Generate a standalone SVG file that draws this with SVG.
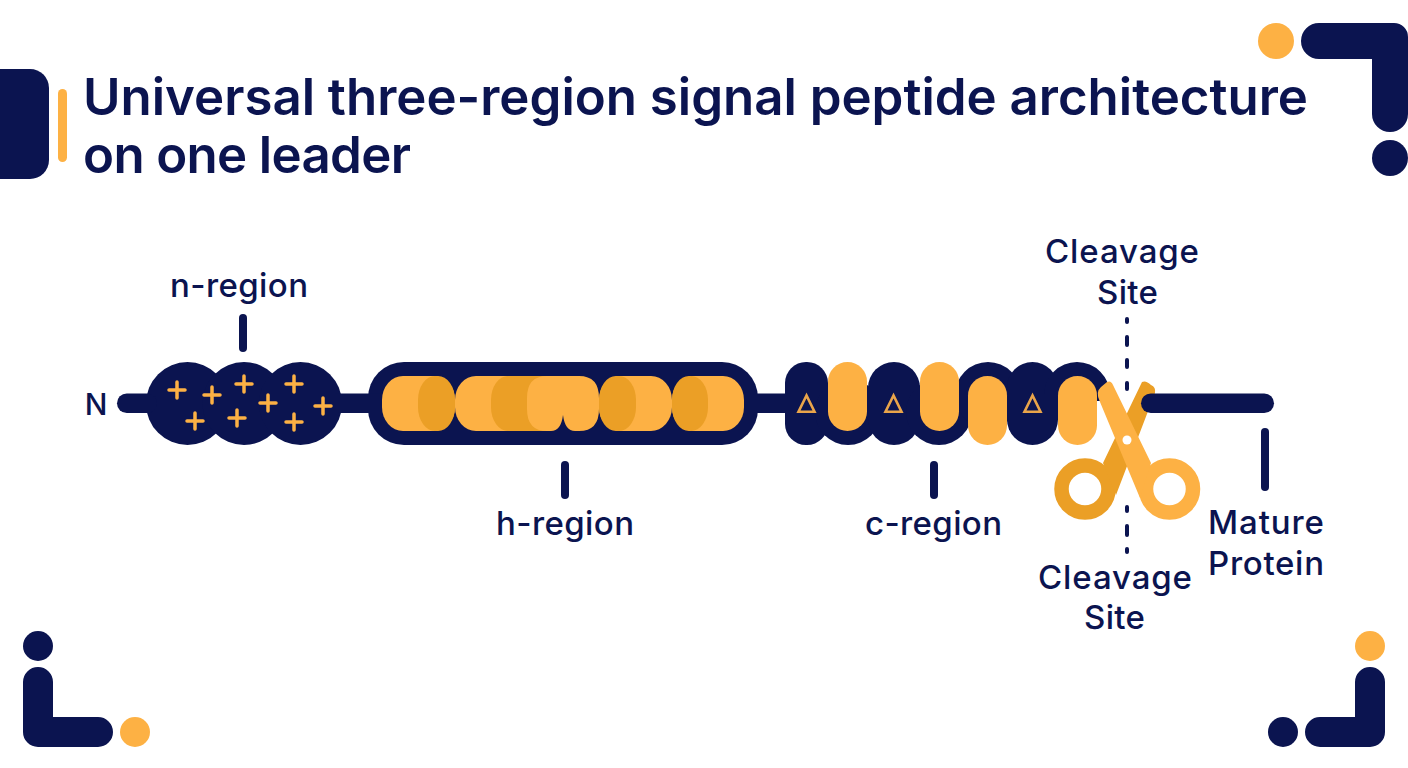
<svg xmlns="http://www.w3.org/2000/svg" width="1408" height="768" viewBox="0 0 1408 768">
  <style>
    .navy { fill: #0b1450; }
    .amber { fill: #fdb144; }
    .deep { fill: #eb9f26; }
    .t { font-family: "Inter", "Liberation Sans", sans-serif; font-weight: 450; fill: #0b1450; }
    .title { font-size: 51px; font-weight: 600; }
    .label { font-size: 33px; text-anchor: middle; }
    .plus { stroke: #fdb144; stroke-width: 3.5; stroke-linecap: round; fill: none; }
    .delta { stroke: #eaa54a; stroke-width: 2.6; fill: none; stroke-linejoin: miter; }
    .tick { stroke: #0b1450; stroke-width: 8; stroke-linecap: round; fill: none; }
    .dash { stroke: #0b1450; stroke-width: 4; stroke-linecap: round; fill: none; }
    .ring { fill: none; stroke-width: 14.5; }
  </style>

  <rect width="1408" height="768" fill="#ffffff"/>

  <g id="corner-top-left">
    <path class="navy" d="M0 69H30A19 19 0 0 1 49 88V160A19 19 0 0 1 30 179H0Z"/>
    <rect class="amber" x="58" y="89" width="9" height="73" rx="4.5"/>
  </g>
  <g id="corner-top-right">
    <circle class="amber" cx="1276" cy="41" r="18"/>
    <path class="navy" d="M1319 23H1394A14 14 0 0 1 1408 37V114A18 18 0 0 1 1372 114V59H1319A18 18 0 0 1 1319 23Z"/>
    <circle class="navy" cx="1390" cy="158" r="18"/>
  </g>
  <g id="corner-bottom-left">
    <circle class="navy" cx="38" cy="646" r="15"/>
    <path class="navy" d="M38 667A15 15 0 0 1 53 682V717H98A15 15 0 0 1 98 747H38A15 15 0 0 1 23 732V682A15 15 0 0 1 38 667Z"/>
    <circle class="amber" cx="135" cy="732" r="15"/>
  </g>
  <g id="corner-bottom-right">
    <circle class="amber" cx="1370" cy="646" r="15"/>
    <path class="navy" d="M1370 667A15 15 0 0 1 1385 682V732A15 15 0 0 1 1370 747H1320A15 15 0 0 1 1320 717H1355V682A15 15 0 0 1 1370 667Z"/>
    <circle class="navy" cx="1283" cy="732" r="15"/>
  </g>

  <g id="title">
    <text class="t title" x="83" y="115" textLength="1225">Universal three-region signal peptide architecture</text>
    <text class="t title" x="83" y="173" textLength="328">on one leader</text>
  </g>

  <g id="n-region">
    <circle class="navy" cx="187.5" cy="403.5" r="41.5"/>
    <circle class="navy" cx="244" cy="403.5" r="41.5"/>
    <circle class="navy" cx="300.5" cy="403.5" r="41.5"/>
    <path class="plus" d="M169 390H185M177 382V398M204 395H220M212 387V403M236 384H252M244 376V392M187 421H203M195 413V429M229 418H245M237 410V426M260 403H276M268 395V411M286 384H302M294 376V392M286 422H302M294 414V430M315 406H331M323 398V414"/>
  </g>

  <g id="h-region">
    <rect class="navy" x="368" y="362" width="390" height="83" rx="36"/>
    <!-- first coil with its shaded half -->
    <rect class="amber" x="382" y="376" width="73" height="55" rx="21" ry="24"/>
    <rect class="deep" x="418" y="376" width="37" height="55" rx="17" ry="24"/>
    <!-- second coil, shade runs under the third -->
    <rect class="amber" x="455" y="376" width="72" height="55" rx="21" ry="24"/>
    <rect class="deep" x="491" y="376" width="72" height="55" rx="17" ry="24"/>
    <!-- third coil, notched along its lower edge -->
    <path class="amber" d="M547 376H579Q599 376 599 398V409Q599 431 579 431H575Q565 431 563 415Q561 431 551 431H547Q527 431 527 409V398Q527 376 547 376Z"/>
    <!-- fourth coil -->
    <rect class="amber" x="599" y="376" width="73" height="55" rx="21" ry="24"/>
    <rect class="deep" x="599" y="376" width="37" height="55" rx="17" ry="24"/>
    <!-- fifth coil -->
    <rect class="amber" x="672" y="376" width="72" height="55" rx="21" ry="24"/>
    <rect class="deep" x="672" y="376" width="36" height="55" rx="17" ry="24"/>
  </g>

  <g id="c-region">
    <rect class="navy" x="785" y="362" width="43" height="83" rx="21"/>
    <rect class="navy" x="815" y="379" width="66" height="66" rx="33"/>
    <rect class="navy" x="868" y="362" width="52" height="83" rx="26"/>
    <rect class="navy" x="906" y="379" width="66" height="66" rx="33"/>
    <rect class="navy" x="955" y="362" width="66" height="66" rx="33"/>
    <rect class="navy" x="1007" y="362" width="51" height="83" rx="25.5"/>
    <path class="navy" d="M1044 420V395A33 33 0 0 1 1110 395V401H1095V420Z"/>
    <rect class="amber" x="828" y="362" width="39" height="69" rx="19.5"/>
    <rect class="amber" x="920" y="362" width="39" height="69" rx="19.5"/>
    <rect class="amber" x="968" y="376" width="39" height="69" rx="19.5"/>
    <rect class="amber" x="1058" y="376" width="39" height="69" rx="19.5"/>
    <path class="delta" d="M806.500 395.500L798.500 411.700H814.500Z"/>
    <path class="delta" d="M893.500 395.500L885.500 411.700H901.500Z"/>
    <path class="delta" d="M1032.500 395.500L1024.500 411.700H1040.500Z"/>
  </g>

  <g id="scissors">
    <!-- rear blade and finger ring -->
    <circle class="ring" cx="1085" cy="489" r="23.500" stroke="#eb9f26"/>
    <path class="deep" d="M1142 382L1103 463L1116 495L1155 393Q1156 387 1151 385Q1146 380 1142 382Z"/>
    <!-- front blade and finger ring -->
    <circle class="ring" cx="1169.500" cy="489" r="23.500" stroke="#fdb144"/>
    <path class="amber" d="M1100 402Q1095 392 1101 387L1107 382Q1111 380 1113 385L1151 463L1140 498Z"/>
    <circle cx="1127" cy="440" r="4.500" fill="#ffffff"/>
  </g>

  <g id="connectors">
    <rect class="navy" x="117" y="393.500" width="40" height="19.500" rx="9.750"/>
    <rect class="navy" x="335" y="393.500" width="45" height="19.500"/>
    <rect class="navy" x="750" y="393.500" width="40" height="19.500"/>
    <rect class="navy" x="1141" y="393.500" width="133" height="19.500" rx="9.750"/>
    <path class="tick" d="M243 318V348"/>
    <path class="tick" d="M565 465V495"/>
    <path class="tick" d="M934 465V495"/>
    <path class="tick" d="M1265 432V487"/>
    <path class="dash" d="M1127 319V322M1127 337V345M1127 360V367M1127 383V389"/>
    <path class="dash" d="M1127 507V511M1127 526V535M1127 549V552"/>
  </g>

  <g id="labels">
    <text class="t" x="96" y="415" font-size="30" text-anchor="middle" textLength="22">N</text>
    <text class="t label" x="239" y="297" textLength="138">n-region</text>
    <text class="t label" x="565" y="535" textLength="138">h-region</text>
    <text class="t label" x="933.500" y="535" textLength="137">c-region</text>
    <text class="t label" x="1122" y="263" textLength="154">Cleavage</text>
    <text class="t label" x="1127.500" y="304" textLength="61">Site</text>
    <text class="t label" x="1115" y="589" textLength="154">Cleavage</text>
    <text class="t label" x="1114.500" y="629" textLength="61">Site</text>
    <text class="t label" x="1266" y="534" textLength="116">Mature</text>
    <text class="t label" x="1266" y="575" textLength="116">Protein</text>
  </g>
</svg>
